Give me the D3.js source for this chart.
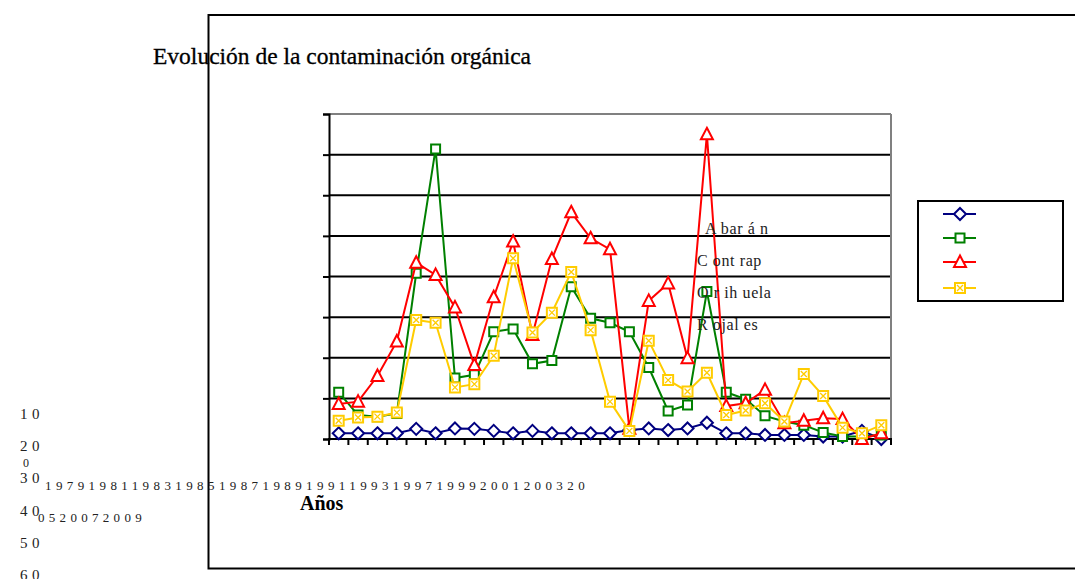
<!DOCTYPE html>
<html>
<head>
<meta charset="utf-8">
<script src="https://cdn.jsdelivr.net/npm/d3@7"></script>
<style>
  body { margin: 0; background: #ffffff; }
  svg { display: block; }
</style>
</head>
<body>
<div id="vis"></div>
<script>
var width = 1075;
var height = 579;

// categories (one per year)
var years = [1979, 1980, 1981, 1982, 1983, 1984, 1985, 1986, 1987, 1988,
             1989, 1990, 1991, 1992, 1993, 1994, 1995, 1996, 1997, 1998,
             1999, 2000, 2001, 2002, 2003, 2004, 2005, 2006, 2007];

// series values
var abaran   = [1.4, 1.4, 1.4, 1.4, 2.5, 1.4, 2.6, 2.5, 2.0, 1.4, 2.0, 1.4, 1.4, 1.4, 1.4,
                2.2, 2.6, 2.2, 2.6, 4.0, 1.4, 1.4, 1.0, 1.0, 1.0, 0.6, 0.6, 2.0, 0.0];
var contrap  = [11.5, 5.9, 5.5, 6.3, 40.8, 71.4, 15.0, 15.8, 26.4, 27.1, 18.5, 19.3, 37.5, 29.7, 28.6,
                26.4, 17.6, 6.9, 8.4, 36.3, 11.5, 9.8, 5.7, 4.3, 3.4, 1.6, 0.6, 0.6, 1.0];
var orihuela = [8.6, 9.2, 15.5, 24.0, 43.4, 40.4, 32.4, 18.2, 34.9, 48.6, 25.6, 44.3, 55.8, 49.4, 46.7,
                2.5, 34.0, 38.3, 19.9, 75.0, 8.1, 8.8, 12.1, 3.9, 4.5, 5.1, 4.9, 0.0, 1.4];
var rojales  = [4.5, 5.3, 5.5, 6.5, 29.3, 28.6, 12.7, 13.5, 20.5, 44.5, 26.2, 31.1, 41.1, 26.8, 9.2,
                2.0, 24.2, 14.5, 11.7, 16.3, 5.9, 7.0, 8.8, 4.3, 16.0, 10.6, 2.8, 1.4, 3.4];

var seriesNames = ["A bar á n", "C ont rap", "O r ih uela", "R ojal es"];
var seriesColors = ["#000080", "#008000", "#ff0000", "#ffcc00"];
var seriesMarkers = ["diamond", "square", "triangle", "xsquare"];

// tick labels as they came out of the broken export
var yTickLabels = ["10", "20", "30", "40", "50", "60"];
var yTicks = [0, 10, 20, 30, 40, 50, 60, 70, 80];
var xTickLabels = ["1979", "1981", "1983", "1985", "1987", "1989", "1991", "1993",
                   "1997", "1999", "2001", "2003", "2005", "2007", "2009"];

var titleText = "Evolución de la contaminación orgánica";
var xTitle = "Años";

var serif = "'Liberation Serif', 'Times New Roman', serif";

function markerPath(type) {
    if (type == "diamond") return "M0,-6L6,0L0,6L-6,0Z";
    if (type == "square") return "M-4.5,-4.5H4.5V4.5H-4.5Z";
    if (type == "triangle") return "M0,-6.5L6,5L-6,5Z";
    return "M-5,-5H5V5H-5Z";
}

function drawMarker(g, type, color) {
    g.append("path")
        .attr("d", markerPath(type))
        .attr("fill", "#ffffff")
        .attr("stroke", color)
        .attr("stroke-width", 2);
    if (type == "xsquare") {
        g.append("path")
            .attr("d", "M-3,-3L3,3M3,-3L-3,3")
            .attr("stroke", color)
            .attr("stroke-width", 1.3);
    }
}

function init() {
    var svg = d3.select("#vis").append("svg")
        .attr("width", width)
        .attr("height", height);

    // outer chart frame (right side runs off the page)
    svg.append("path")
        .attr("d", "M1080,15H208.5V568.5H1080")
        .attr("fill", "none")
        .attr("stroke", "#000")
        .attr("stroke-width", 2);

    svg.append("text")
        .attr("x", 153)
        .attr("y", 64)
        .attr("font-family", serif)
        .attr("font-size", 23.5)
        .attr("stroke", "#000")
        .attr("stroke-width", 0.3)
        .text(titleText);

    var plot = {left: 329, right: 891, top: 114, bottom: 439};

    var x = d3.scaleBand()
        .domain(years)
        .range([plot.left, plot.right]);

    var y = d3.scaleLinear()
        .domain([0, 80])
        .range([plot.bottom, plot.top]);

    // grid lines
    svg.append("g").selectAll("line")
        .data(yTicks.slice(1))
        .enter().append("line")
        .attr("x1", plot.left)
        .attr("x2", plot.right)
        .attr("y1", function(d){ return y(d); })
        .attr("y2", function(d){ return y(d); })
        .attr("stroke", function(d){ return d == 80 ? "#808080" : "#000"; })
        .attr("stroke-width", 2);

    svg.append("line")
        .attr("x1", plot.right).attr("x2", plot.right)
        .attr("y1", plot.top).attr("y2", plot.bottom)
        .attr("stroke", "#808080")
        .attr("stroke-width", 2);

    // y axis: ticks only, no labels
    var yAxis = svg.append("g")
        .attr("transform", "translate(" + plot.left + ",0)")
        .call(d3.axisLeft(y).tickValues(yTicks).tickSize(6).tickFormat(""));
    yAxis.selectAll("path, line").attr("stroke", "#000").attr("stroke-width", 2);

    // x axis: ticks between categories, labels missing
    var xAxis = svg.append("g")
        .attr("transform", "translate(0," + plot.bottom + ")");
    xAxis.append("line")
        .attr("x1", plot.left - 1).attr("x2", plot.right + 1)
        .attr("stroke", "#000").attr("stroke-width", 2);
    xAxis.selectAll("line.tick")
        .data(years.concat(["end"]))
        .enter().append("line")
        .attr("class", "tick")
        .attr("x1", function(d){ return d == "end" ? plot.right : x(d); })
        .attr("x2", function(d){ return d == "end" ? plot.right : x(d); })
        .attr("y1", 0)
        .attr("y2", 6)
        .attr("stroke", "#000")
        .attr("stroke-width", 2);

    var allSeries = [abaran, contrap, orihuela, rojales];

    var line = d3.line()
        .x(function(d, i){ return x(years[i]) + x.bandwidth() / 2; })
        .y(function(d){ return y(d); });

    allSeries.forEach(function(values, s) {
        var g = svg.append("g");
        g.append("path")
            .attr("d", line(values))
            .attr("fill", "none")
            .attr("stroke", seriesColors[s])
            .attr("stroke-width", 2);
        g.selectAll("g.pt")
            .data(values)
            .enter().append("g")
            .attr("class", "pt")
            .attr("transform", function(d, i){
                return "translate(" + (x(years[i]) + x.bandwidth() / 2) + "," + y(d) + ")";
            })
            .each(function(){ drawMarker(d3.select(this), seriesMarkers[s], seriesColors[s]); });
    });

    // series names dropped into the plot area
    var nameY = d3.scalePoint().domain(seriesNames).range([234, 330]);
    svg.append("g").selectAll("text")
        .data(seriesNames)
        .enter().append("text")
        .attr("x", function(d, i){ return i == 0 ? 705 : 697; })
        .attr("y", function(d){ return nameY(d); })
        .attr("font-family", serif)
        .attr("font-size", 16)
        .attr("letter-spacing", 0.6)
        .attr("fill", "#222")
        .text(function(d){ return d; });

    // legend box with markers only
    svg.append("rect")
        .attr("x", 918).attr("y", 201)
        .attr("width", 145).attr("height", 100)
        .attr("fill", "#fff")
        .attr("stroke", "#000")
        .attr("stroke-width", 2);
    var legY = [214, 238, 262, 288];
    seriesNames.forEach(function(n, s) {
        svg.append("line")
            .attr("x1", 943).attr("x2", 976)
            .attr("y1", legY[s]).attr("y2", legY[s])
            .attr("stroke", seriesColors[s])
            .attr("stroke-width", 2);
        var m = svg.append("g").attr("transform", "translate(960," + legY[s] + ")");
        drawMarker(m, seriesMarkers[s], seriesColors[s]);
    });

    // stray y labels at the far left
    var labelY = d3.scalePoint().domain(yTickLabels).range([419, 580]);
    svg.append("g").selectAll("text")
        .data(yTickLabels)
        .enter().append("text")
        .attr("x", 20)
        .attr("y", function(d){ return labelY(d); })
        .attr("font-family", serif)
        .attr("font-size", 15)
        .attr("letter-spacing", 4.5)
        .attr("fill", "#222")
        .text(function(d){ return d; });
    svg.append("text")
        .attr("x", 23)
        .attr("y", 467)
        .attr("font-family", serif)
        .attr("font-size", 12)
        .attr("fill", "#222")
        .text("0");

    // year labels run together and wrapped
    var joined = xTickLabels.join("");
    var rows = [joined.slice(0, 50), joined.slice(50)];
    svg.append("text")
        .attr("x", 45).attr("y", 490)
        .attr("font-family", serif)
        .attr("font-size", 13)
        .attr("letter-spacing", 4.4)
        .attr("fill", "#222")
        .text(rows[0]);
    svg.append("text")
        .attr("x", 38).attr("y", 522)
        .attr("font-family", serif)
        .attr("font-size", 13)
        .attr("letter-spacing", 4.3)
        .attr("fill", "#222")
        .text(rows[1]);

    svg.append("text")
        .attr("x", 300).attr("y", 510)
        .attr("font-family", serif)
        .attr("font-size", 20)
        .attr("font-weight", "bold")
        .text(xTitle);
}

init();
</script>
</body>
</html>
